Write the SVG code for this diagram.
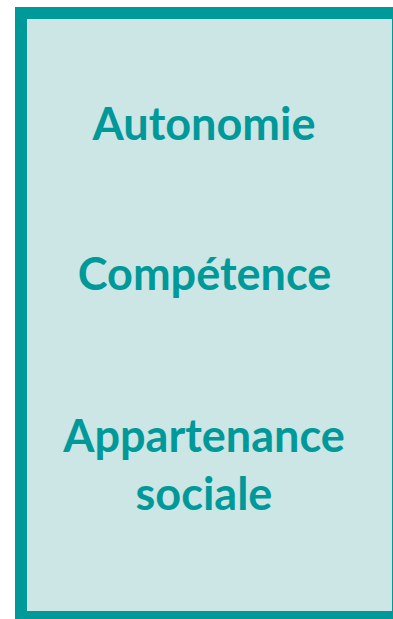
<svg xmlns="http://www.w3.org/2000/svg" width="393" height="619" viewBox="0 0 393 619">
<style>
.t{font-family:Lato,"Open Sans","Liberation Sans",sans-serif;font-weight:700;font-size:45px;fill:#009999;text-anchor:middle}
</style>
<rect width="393" height="619" fill="#ffffff"/>
<g id="panel">
<rect x="15" y="7" width="390" height="620" fill="#009999"/>
<rect x="27" y="19" width="365" height="592" fill="#CCE5E5"/>
</g>
<g id="autonomie"><text class="t" x="204" y="140">Autonomie</text></g>
<g id="competence"><text class="t" x="204.5" y="290">Compétence</text></g>
<g id="appartenance"><text class="t" x="204" y="452">Appartenance</text><text class="t" x="204" y="510">sociale</text></g>
</svg>
